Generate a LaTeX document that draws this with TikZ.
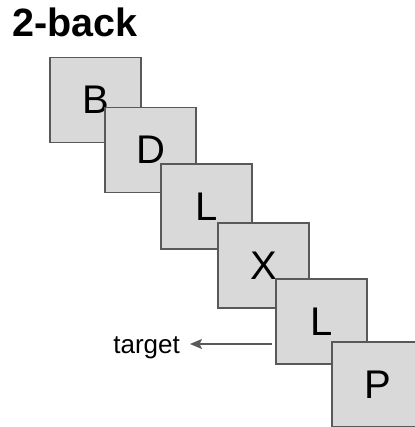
\documentclass[tikz,border=0pt]{standalone}
\usepackage{fontspec}
\setmainfont{Liberation Sans}
\usetikzlibrary{arrows.meta}
\definecolor{CardGray}{HTML}{D9D9D9}
\definecolor{EdgeGray}{HTML}{595959}

\begin{document}
\begin{tikzpicture}[x=1pt, y=-1pt,
    card/.style={draw=EdgeGray, fill=CardGray, line width=1.6pt, minimum width=91pt, minimum height=85pt, inner sep=0pt, font=\fontsize{40}{48}\selectfont}]
    \useasboundingbox (0,0) rectangle (414,427);

    % Title
    \node[anchor=base west, inner sep=0pt, font=\bfseries\fontsize{39.5}{47}\selectfont] (title) at (12,37) {2-back};

    % Letter sequence
    \node[card] (bone) at (95.5,100) {B};
    \node[card] (dtwo) at (150.5,150) {D};
    \node[card] (lthree) at (206.5,206.5) {L};
    \node[card] (xfour) at (263.5,265.5) {X};
    \node[card] (lfive) at (321.5,321.5) {L};
    \node[card] (psix) at (377.5,384.5) {P};

    % Target label
    \node[anchor=base east, inner sep=0pt, font=\fontsize{26}{31}\selectfont] (target) at (180,353) {target};
    \coordinate (tail) at (272,344);
    \draw[-{Stealth[length=12pt, width=10pt, inset=2.5pt]}, EdgeGray, line width=1.6pt] (tail) -- ([xshift=10pt]target.east |- tail);
\end{tikzpicture}
\end{document}
